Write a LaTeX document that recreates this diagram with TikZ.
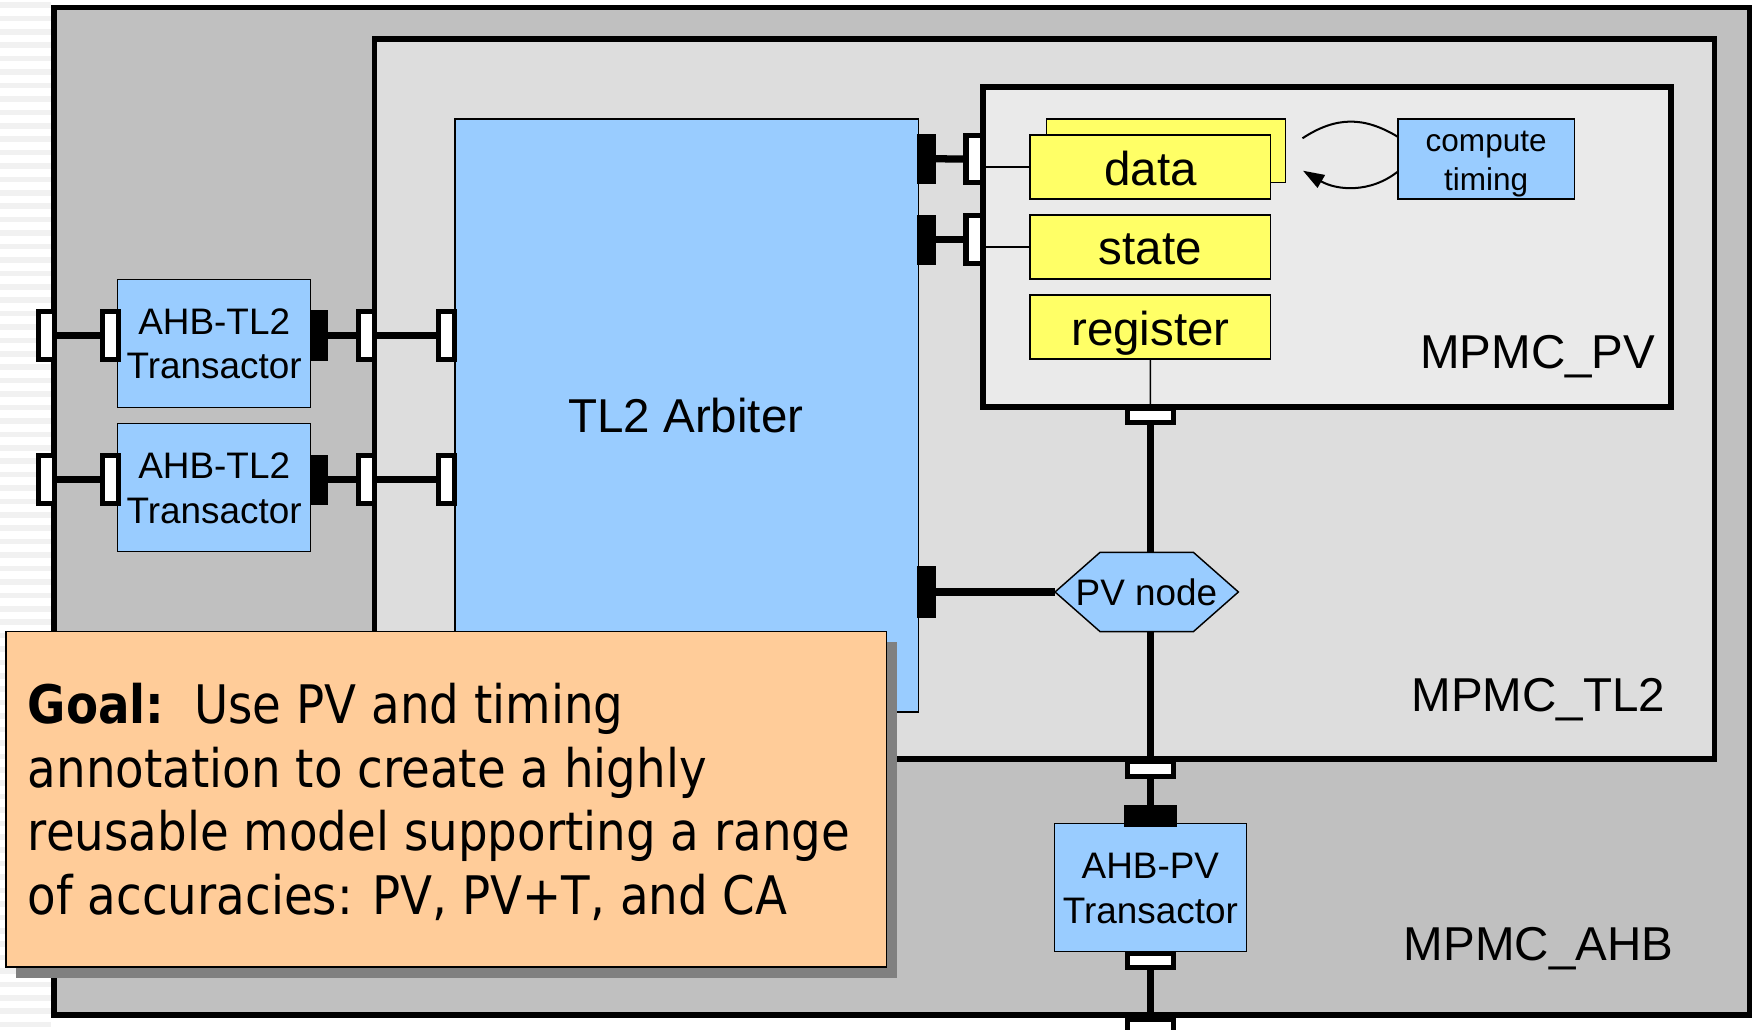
\documentclass[tikz,border=0pt]{standalone}
\usepackage{fontspec}
\setmainfont{Liberation Sans}
\newfontfamily\goalfont[FakeStretch=0.88]{DejaVu Sans}
\usetikzlibrary{arrows.meta}

\definecolor{ahbgray}{HTML}{C0C0C0}
\definecolor{tlgray}{HTML}{DDDDDD}
\definecolor{pvgray}{HTML}{EAEAEA}
\definecolor{boxblue}{HTML}{99CCFF}
\definecolor{boxyellow}{HTML}{FFFF66}
\definecolor{goalorange}{HTML}{FFCC99}
\definecolor{shadowgray}{HTML}{808080}
\definecolor{stripecol}{HTML}{F1F1F1}

\begin{document}
\begin{tikzpicture}[x=1pt,y=-1pt,
  every node/.style={inner sep=0pt, outer sep=0pt},
  container/.style={draw=black, line width=5pt, anchor=north west},
  bluebox/.style={draw=black, line width=1.3pt, fill=boxblue, anchor=north west},
  yelbox/.style={draw=black, line width=1.3pt, fill=boxyellow, anchor=north west},
  vport/.style={draw=black, line width=4.5pt, fill=white, minimum width=14.5pt, minimum height=42.5pt},
  hport/.style={draw=black, line width=4.5pt, fill=white, minimum width=41.5pt, minimum height=13pt},
  bport/.style={fill=black, draw=black, line width=0.6pt},
  wire/.style={line width=6.5pt},
  thinwire/.style={line width=1.3pt},
  timecurve/.style={line width=1.8pt},
  bigtxt/.style={font=\fontsize{42.5}{50}\selectfont, anchor=base},
  bigtxtr/.style={font=\fontsize{42.5}{50}\selectfont, anchor=base east},
  midtxt/.style={font=\fontsize{33}{39}\selectfont, anchor=base},
  smalltxt/.style={font=\fontsize{28.2}{34}\selectfont, anchor=base},
  goaltxt/.style={font=\goalfont\fontsize{47.5}{57}\selectfont, anchor=base west}
]
\useasboundingbox (0,0) rectangle (1568,921);
\fill[white] (0,0) rectangle (1568,921);
\foreach \yy in {2,14,...,914} \fill[stripecol] (0,\yy) rectangle (46,\yy+5);

% containers
\node[container, fill=ahbgray, minimum width=1516.5pt, minimum height=901.3pt] (ahb) at (48.5,6.7) {};
\node[container, fill=tlgray, minimum width=1198.5pt, minimum height=644pt] (tl2) at (335,35) {};
\node[container, fill=pvgray, minimum width=615.5pt, minimum height=286pt] (pv) at (879,78) {};

% blocks
\node[bluebox, minimum width=414.4pt, minimum height=530.6pt] (arb) at (407,106.4) {};
\node[bluebox, minimum width=172.6pt, minimum height=114.5pt] (tr1) at (105.3,249.8) {};
\node[bluebox, minimum width=172.6pt, minimum height=114.8pt] (tr2) at (105.3,378.6) {};
\node[bluebox, minimum width=172pt, minimum height=114.8pt] (tr3) at (943,736.4) {};
\node[yelbox, minimum width=214pt, minimum height=57pt] (databack) at (936,106.4) {};
\node[yelbox, minimum width=215.3pt, minimum height=57.2pt] (data) at (921.3,120.8) {};
\node[yelbox, minimum width=215.3pt, minimum height=57.2pt] (state) at (921.3,192.5) {};
\node[yelbox, minimum width=215.3pt, minimum height=57.2pt] (reg) at (921.3,264) {};
\node[bluebox, minimum width=158pt, minimum height=71.6pt] (comp) at (1250.5,106.4) {};

% PV node hexagon
\draw[line width=1.3pt, fill=boxblue] (943.7,529.5) -- (984,494) -- (1067.4,494) -- (1107.7,529.5) -- (1067.4,565) -- (984,565) -- cycle;
\node[minimum width=164pt, minimum height=71pt] (pvnode) at (1025.7,529.5) {};

% ports, left rows
\foreach \r/\yc in {1/300, 2/429} {
  \node[vport] (pa\r) at (41.5,\yc) {};
  \node[vport] (pb\r) at (98.7,\yc) {};
  \node[bport, minimum width=15.5pt, minimum height=44pt] (bt\r) at (285,\yc) {};
  \node[vport] (pc\r) at (328,\yc) {};
  \node[vport] (pd\r) at (399.3,\yc) {};
}
% ports, right of arbiter
\node[bport, minimum width=15.5pt, minimum height=44pt] (bd1) at (828.7,142) {};
\node[bport, minimum width=15.5pt, minimum height=44pt] (bd2) at (828.7,214.2) {};
\node[bport, minimum width=15.5pt, minimum height=45pt] (bd3) at (828.7,529.5) {};
\node[vport] (pe1) at (871.3,142.3) {};
\node[vport] (pe2) at (871.3,214.2) {};
% ports, vertical chain
\node[hport] (pf) at (1029,371.5) {};
\node[hport] (pg) at (1029,688) {};
\node[bport, minimum width=47pt, minimum height=19pt] (bh) at (1029,729.5) {};
\node[hport] (pi) at (1029,859) {};
\node[hport] (pj) at (1029,918.7) {};

% connectors
\foreach \r in {1,2} {
  \draw[wire] (pa\r.east) -- (pb\r.west);
  \draw[wire] (bt\r.east) -- (pc\r.west);
  \draw[wire] (pc\r.east) -- (pd\r.west);
}
\draw[wire] (bd1.east) -- (pe1.west);
\draw[wire] (bd2.east) -- (pe2.west);
\draw[thinwire] (pe1.east |- data.west) -- (data.west);
\draw[thinwire] (pe2.east |- state.west) -- (state.west);
\draw[thinwire] (reg.south) -- (pf.north);
\draw[wire] (pf.south) -- (pf.south |- pvnode.north);
\draw[wire] (bd3.east) -- (pvnode.west);
\draw[wire] (pg.north |- pvnode.south) -- (pg.north);
\draw[wire] (pg.south) -- (bh.north);
\draw[wire] (pi.south) -- (pj.north);

% timing loop
\coordinate (c1start) at (1165,123.7);
\coordinate (c2end) at (1165.5,152.7);
\draw[timecurve] (c1start) .. controls (1195,104) and (1220,104) .. (comp.166);
\draw[timecurve, -{Triangle[length=19pt,width=13pt]}] (comp.188) .. controls (1225,173.5) and (1195,170) .. (c2end);

% labels
\node[bigtxt] (arblbl) at (613.5,387) {TL2 Arbiter};
\node[bigtxt] (datalbl) at (1029,165.5) {data};
\node[bigtxt] (statelbl) at (1029,237) {state};
\node[bigtxt] (reglbl) at (1029,308.6) {register};
\node[bigtxtr] (pvlbl) at (1480.5,329.5) {MPMC\_PV};
\node[bigtxtr] (tl2lbl) at (1489.4,636.5) {MPMC\_TL2};
\node[bigtxtr] (ahblbl) at (1496.6,858.7) {MPMC\_AHB};
\node[midtxt] (tr1a) at (191.6,299) {AHB-TL2};
\node[midtxt] (tr1b) at (191.6,338.5) {Transactor};
\node[midtxt] (tr2a) at (191.6,428) {AHB-TL2};
\node[midtxt] (tr2b) at (191.6,468) {Transactor};
\node[midtxt] (tr3a) at (1029,786) {AHB-PV};
\node[midtxt] (tr3b) at (1029,826) {Transactor};
\node[midtxt] (pvnodelbl) at (1025.5,542) {PV node};
\node[smalltxt] (compa) at (1329.3,135.7) {compute};
\node[smalltxt] (compb) at (1329.3,170) {timing};

% goal box
\fill[shadowgray] (14,574) rectangle (802,875);
\node[draw=black, line width=1.3pt, fill=goalorange, anchor=north west, minimum width=787.7pt, minimum height=300pt] (goal) at (5.3,565) {};
\node[goaltxt] (g1) at (25,647) {\textbf{Goal:}\ \ Use PV and timing};
\node[goaltxt] (g2) at (25,704) {annotation to create a highly};
\node[goaltxt] (g3) at (25,761) {reusable model supporting a range};
\node[goaltxt] (g4) at (25,818) {of accuracies: PV, PV+T, and CA};
\end{tikzpicture}
\end{document}
